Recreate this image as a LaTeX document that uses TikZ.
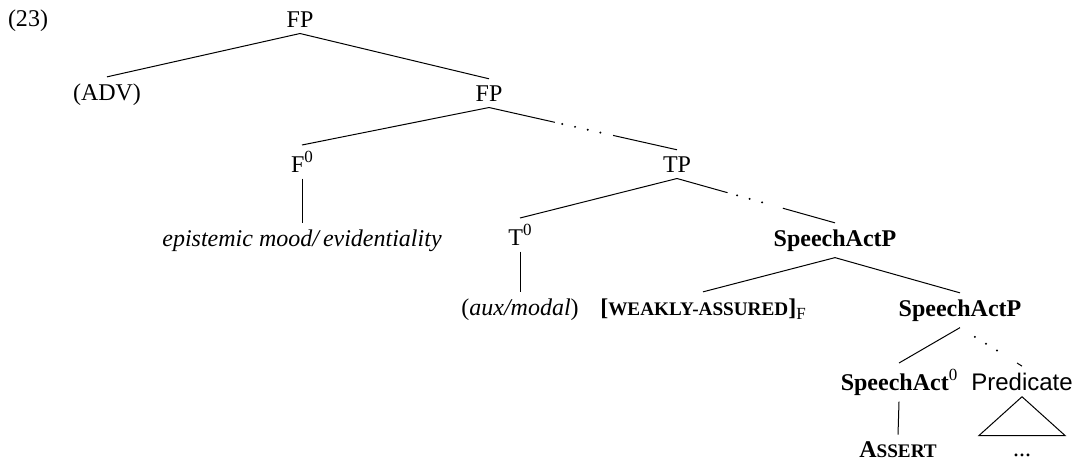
\documentclass[tikz,border=0pt]{standalone}
\usepackage{fontspec}
\setmainfont{Liberation Serif}
\newfontfamily\predfont{Liberation Sans}
\usetikzlibrary{calc}
\newcommand{\fakesc}[1]{{\fontsize{9.6pt}{10pt}\selectfont #1}}
\newcommand{\supzero}{\raisebox{4.6pt}{\fontsize{8.5pt}{9pt}\selectfont 0}}
\newcommand{\subF}{\raisebox{-2.4pt}{\fontsize{8.5pt}{9pt}\selectfont F}}

\begin{document}
\begin{tikzpicture}[x=0.5pt,y=-0.5pt,line width=0.5pt]
            \tikzstyle{every node}=[font=\fontsize{12pt}{14pt}\selectfont, anchor=base, inner sep=3pt]
            \tikzstyle{dotline}=[line width=1.1pt, line cap=round, dash pattern=on 0pt off 6.5pt]
            \useasboundingbox (0,0) rectangle (1075,462);
            \node (ex) at (28,26) {(23)};
            \node (fpa) at (300,27) {FP};
            \node (adv) at (107,100) {(ADV)};
            \node (fpb) at (489,101) {FP};
            \node (fzero) at (302,172) {F\supzero};
            \node (epi) at (302,246) {\textit{epistemic mood/\,evidentiality}};
            \node (tp) at (677,172) {TP};
            \node (tzero) at (520,245) {T\supzero};
            \node (aux) at (520,315) {(\textit{aux/modal})};
            \node (sapa) at (835,246) {\textbf{SpeechActP}};
            \node (weak) at (703,315) {\textbf{[\fakesc{WEAKLY-ASSURED}]}\subF};
            \node (sapb) at (960,316) {\textbf{SpeechActP}};
            \node (sazero) at (899,390) {\textbf{SpeechAct}\supzero};
            \node (pred) at (1022,390) {\predfont Predicate};
            \node (assert) at (898,457) {\textbf{A\fakesc{SSERT}}};
            \node[text height=7pt] (rest) at (1022,456) {...};

            % solid branches
            \draw (fpa.south) -- (adv.north);
            \draw (fpa.south) -- (fpb.north);
            \draw (fpb.south) -- (fzero.north);
            \draw (fzero.south) -- (epi.north);
            \draw (tp.south) -- (tzero.north);
            \draw (tzero.south) -- (aux.north);
            \draw (sapa.south) -- (weak.north);
            \draw (sapa.south) -- (sapb.north);
            \draw (sapb.south) -- (sazero.north);
            \draw (sazero.south) -- (assert.north);
            % dotted branches
            \draw (fpb.south) -- ($(fpb.south)!.35!(tp.north)$);
            \draw[dotline] ($(fpb.south)!.39!(tp.north)$) -- ($(fpb.south)!.62!(tp.north)$);
            \draw ($(fpb.south)!.66!(tp.north)$) -- (tp.north);
            \draw (tp.south) -- ($(tp.south)!.32!(sapa.north)$);
            \draw[dotline] ($(tp.south)!.38!(sapa.north)$) -- ($(tp.south)!.61!(sapa.north)$);
            \draw ($(tp.south)!.67!(sapa.north)$) -- (sapa.north);
            \draw[dotline] ($(sapb.south)!.24!(pred.north)$) -- ($(sapb.south)!.74!(pred.north)$);
            \draw ($(sapb.south)!.92!(pred.north)$) -- (pred.north);
            % roof
            \draw (pred.south) -- ([xshift=-21.5pt]rest.north) -- ([xshift=21.5pt]rest.north) -- cycle;
        \end{tikzpicture}
\end{document}
